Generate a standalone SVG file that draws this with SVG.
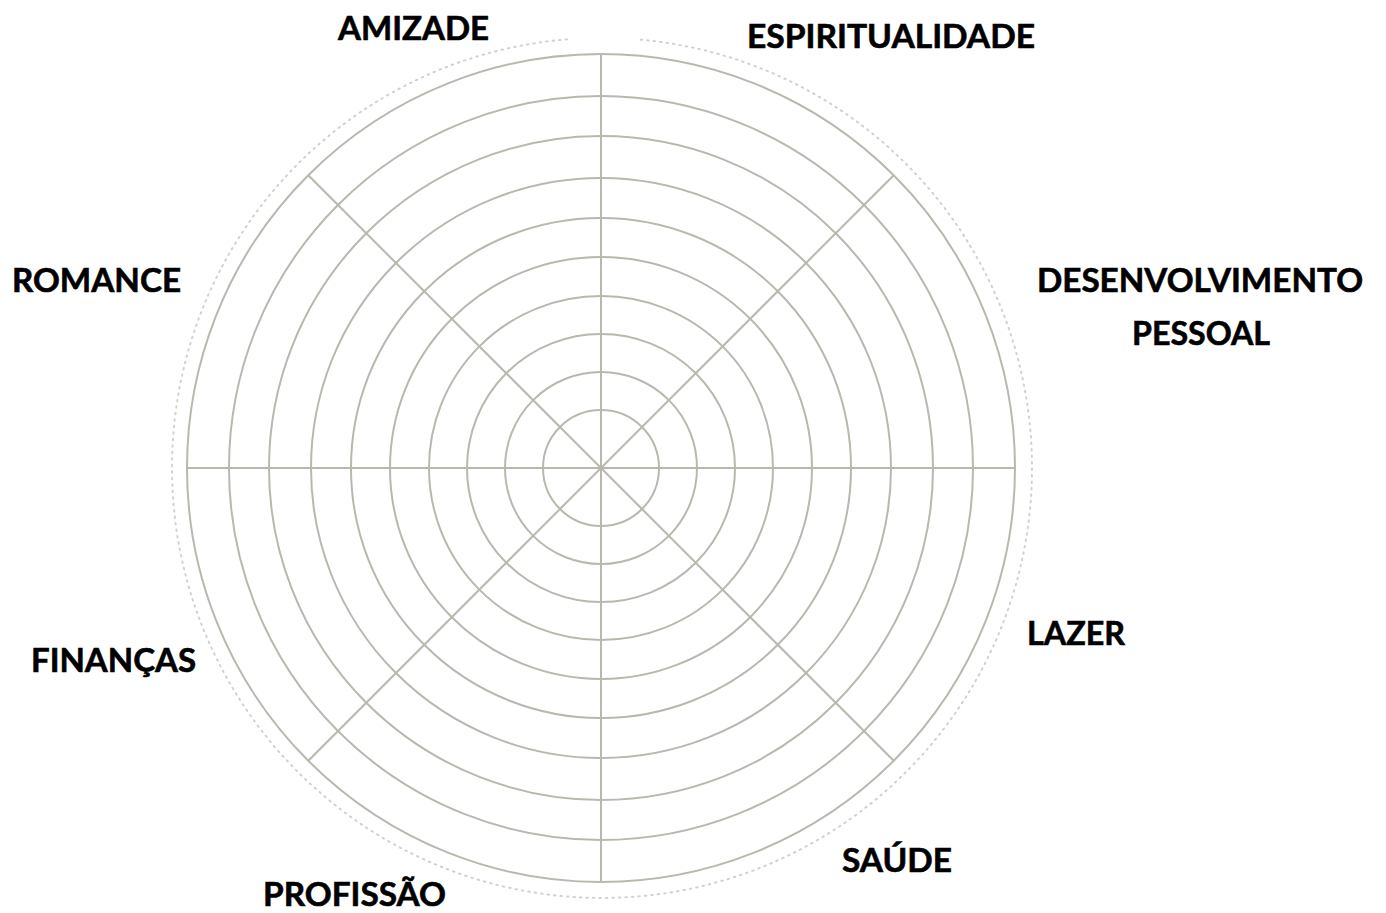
<svg xmlns="http://www.w3.org/2000/svg" width="1386" height="913" viewBox="0 0 1386 913">
  <style>
    .ring { fill: none; stroke: #b9b8ae; stroke-width: 2; }
    .spoke { stroke: #b9b8ae; stroke-width: 2; }
    .dots { fill: none; stroke: #d2d2cc; stroke-width: 2; stroke-dasharray: 1.5 5; stroke-linecap: round; }
    .lbl { font-family: Lato, "Open Sans", "Liberation Sans", sans-serif; font-weight: bold; font-size: 32px; fill: #000; stroke: #000; stroke-width: 0.6; }
  </style>
  <rect width="1386" height="913" fill="#ffffff"/>
  <g id="wheel">
    <path class="dots" d="M 567 39.35 A 430 430 0 1 0 637 39.35"/>
    <g id="rings">
      <circle class="ring" cx="601" cy="468" r="414"/>
      <circle class="ring" cx="601" cy="468" r="372"/>
      <circle class="ring" cx="601" cy="468" r="332"/>
      <circle class="ring" cx="601" cy="468" r="290"/>
      <circle class="ring" cx="601" cy="468" r="250"/>
      <circle class="ring" cx="601" cy="468" r="211"/>
      <circle class="ring" cx="601" cy="468" r="172"/>
      <circle class="ring" cx="601" cy="468" r="134"/>
      <circle class="ring" cx="601" cy="468" r="96"/>
      <circle class="ring" cx="601" cy="468" r="58"/>
    </g>
    <g id="spokes">
      <line class="spoke" x1="187" y1="468" x2="1015" y2="468"/>
      <line class="spoke" x1="601" y1="54" x2="601" y2="882"/>
      <line class="spoke" x1="308.3" y1="175.3" x2="893.7" y2="760.7"/>
      <line class="spoke" x1="893.7" y1="175.3" x2="308.3" y2="760.7"/>
    </g>
  </g>
  <g id="label-amizade"><text class="lbl" x="338" y="40" textLength="151" lengthAdjust="spacingAndGlyphs">AMIZADE</text></g>
  <g id="label-espiritualidade"><text class="lbl" x="747" y="48" textLength="288" lengthAdjust="spacingAndGlyphs">ESPIRITUALIDADE</text></g>
  <g id="label-romance"><text class="lbl" x="12" y="292" textLength="169" lengthAdjust="spacingAndGlyphs">ROMANCE</text></g>
  <g id="label-desenvolvimento">
    <text class="lbl" x="1037" y="292" textLength="326" lengthAdjust="spacingAndGlyphs">DESENVOLVIMENTO</text>
    <text class="lbl" x="1132" y="345" textLength="138" lengthAdjust="spacingAndGlyphs">PESSOAL</text>
  </g>
  <g id="label-lazer"><text class="lbl" x="1027" y="645" textLength="98" lengthAdjust="spacingAndGlyphs">LAZER</text></g>
  <g id="label-financas"><text class="lbl" x="31" y="672" textLength="165" lengthAdjust="spacingAndGlyphs">FINANÇAS</text></g>
  <g id="label-saude"><text class="lbl" x="842" y="872" textLength="110" lengthAdjust="spacingAndGlyphs">SAÚDE</text></g>
  <g id="label-profissao"><text class="lbl" x="263" y="906" textLength="183" lengthAdjust="spacingAndGlyphs">PROFISSÃO</text></g>
</svg>
